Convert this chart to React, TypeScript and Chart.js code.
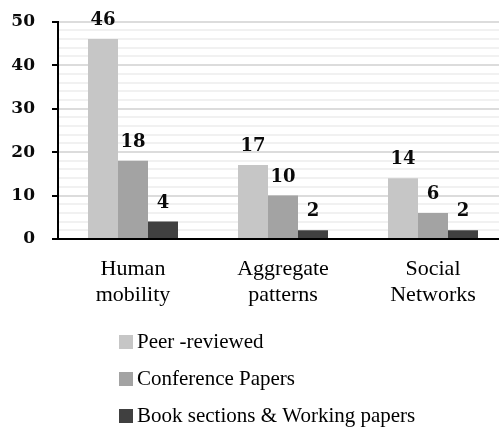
import React, { useEffect, useRef } from 'react';
import { Chart, registerables } from 'chart.js';

Chart.register(...registerables);

const categories: string[][] = [
  ['Human', 'mobility'],
  ['Aggregate', 'patterns'],
  ['Social', 'Networks'],
];
const seriesNames = ['Peer -reviewed', 'Conference Papers', 'Book sections & Working papers'];
const peerReviewed = [46, 17, 14];
const conferencePapers = [18, 10, 6];
const bookSections = [4, 2, 2];
const seriesColors = ['#c6c6c6', '#a3a3a3', '#404040'];
const yMin = 0;
const yMax = 50;
const yStep = 2;
const yLabelStep = 10;

const NUM_FAMILY = '"DejaVu Serif", serif';
const TEXT_FAMILY = '"Liberation Serif", serif';

const dataLabelPlugin = {
  id: 'dataLabels',
  afterDatasetsDraw(chart: any) {
    const ctx = chart.ctx;
    ctx.save();
    ctx.font = `bold 18px ${NUM_FAMILY}`;
    ctx.fillStyle = '#0a0a0a';
    ctx.textAlign = 'center';
    ctx.textBaseline = 'alphabetic';
    chart.data.datasets.forEach((ds: any, i: number) => {
      const meta = chart.getDatasetMeta(i);
      meta.data.forEach((bar: any, j: number) => {
        ctx.fillText(String(ds.data[j]), bar.x, bar.y - 14);
      });
    });
    ctx.restore();
  },
};

const legendPlugin = {
  id: 'vertLegend',
  afterDraw(chart: any) {
    const ctx = chart.ctx;
    const area = chart.chartArea;
    ctx.save();
    ctx.font = `21px ${TEXT_FAMILY}`;
    ctx.textAlign = 'left';
    ctx.textBaseline = 'middle';
    chart.data.datasets.forEach((ds: any, i: number) => {
      const cy = area.bottom + 103 + i * 37;
      const bx = area.left + 61;
      ctx.fillStyle = ds.backgroundColor;
      ctx.fillRect(bx, cy - 7, 14, 14);
      ctx.fillStyle = '#000';
      ctx.fillText(ds.label, bx + 18, cy);
    });
    ctx.restore();
  },
};

export default function App() {
  const ref = useRef<HTMLCanvasElement | null>(null);

  useEffect(() => {
    if (!ref.current) return;
    const chart = new Chart(ref.current, {
      type: 'bar',
      data: {
        labels: categories,
        datasets: [
          { label: seriesNames[0], data: peerReviewed, backgroundColor: seriesColors[0] },
          { label: seriesNames[1], data: conferencePapers, backgroundColor: seriesColors[1] },
          { label: seriesNames[2], data: bookSections, backgroundColor: seriesColors[2] },
        ],
      },
      options: {
        animation: false,
        responsive: false,
        devicePixelRatio: 1,
        layout: { padding: { left: 0, right: 12, top: 21.7, bottom: 102.2 } },
        datasets: { bar: { categoryPercentage: 0.6, barPercentage: 1.0, borderWidth: 0 } },
        plugins: {
          legend: { display: false },
          tooltip: { enabled: false },
        },
        scales: {
          x: {
            grid: { display: false, drawTicks: false },
            border: { display: true, color: '#000', width: 2 },
            ticks: { font: { family: TEXT_FAMILY, size: 22 }, color: '#000', padding: 17 },
          },
          y: {
            min: yMin,
            max: yMax,
            ticks: {
              stepSize: yStep,
              autoSkip: false,
              padding: 17,
              color: '#0a0a0a',
              font: { family: NUM_FAMILY, size: 17, weight: 'bold' },
              callback: (v: any) => (Number(v) % yLabelStep === 0 ? String(v) : ''),
            },
            grid: {
              drawTicks: true,
              tickLength: 6,
              lineWidth: 2,
              color: (c: any) =>
                c.tick && c.tick.value % yLabelStep === 0 ? '#dcdcdc' : '#f1f1f1',
              tickColor: (c: any) =>
                c.tick && c.tick.value % yLabelStep === 0 ? '#000' : 'rgba(0,0,0,0)',
            },
            border: { display: true, color: '#000', width: 2 },
            afterFit: (s: any) => {
              s.width = 58;
              s.paddingTop = 0;
              s.paddingBottom = 0;
            },
          },
        },
      } as any,
      plugins: [dataLabelPlugin, legendPlugin],
    });
    return () => chart.destroy();
  }, []);

  return (
    <div style={{ position: 'fixed', left: 0, top: 0, width: 499, height: 428, overflow: 'hidden', background: '#fff' }}>
      <canvas ref={ref} width={520} height={428} style={{ display: 'block', width: 520, height: 428 }} />
    </div>
  );
}
